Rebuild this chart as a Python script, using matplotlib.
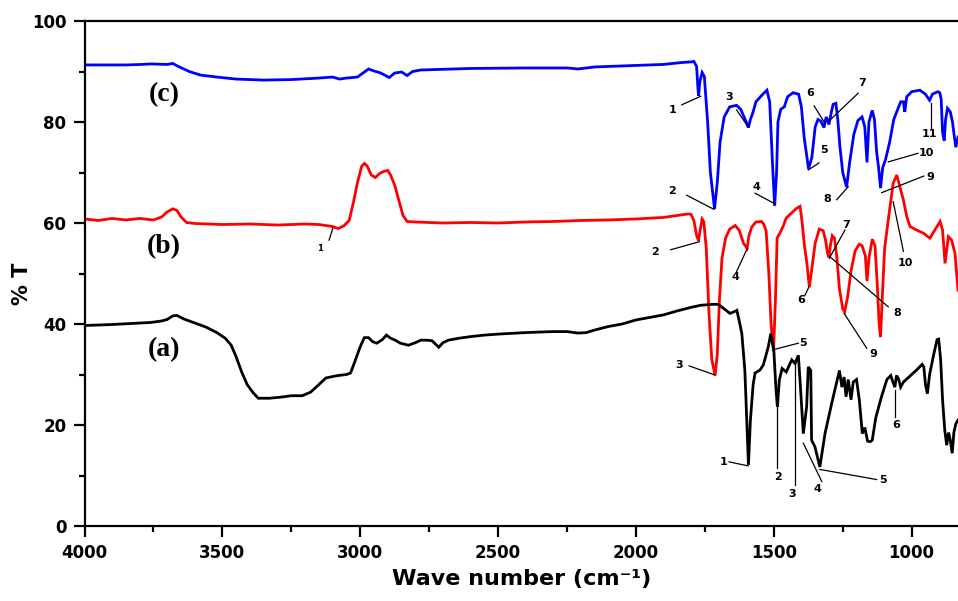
import matplotlib
matplotlib.use("Agg")
import matplotlib.pyplot as plt
from matplotlib.ticker import MultipleLocator

# ---------------- data ----------------
wn_c = [4000, 3850, 3790, 3760, 3700, 3680, 3660, 3620, 3580, 3520, 3450, 3350, 3250, 3150,
        3100, 3075, 3050, 3010, 2990, 2970, 2950, 2930, 2915, 2895, 2875, 2850, 2830, 2810,
        2780, 2600, 2400, 2250, 2210, 2150, 2000, 1900, 1830, 1800, 1790, 1780, 1775, 1773,
        1768, 1760, 1752, 1740, 1730, 1715, 1705, 1695, 1680, 1660, 1635, 1620, 1600, 1592,
        1585, 1575, 1565, 1540, 1525, 1515, 1505, 1497, 1490, 1485, 1475, 1462, 1450, 1430,
        1410, 1400, 1390, 1374, 1362, 1350, 1340, 1330, 1318, 1310, 1300, 1293, 1285, 1275,
        1268, 1260, 1250, 1236, 1225, 1210, 1195, 1180, 1170, 1162, 1155, 1143, 1135, 1127,
        1120, 1113, 1105, 1095, 1080, 1065, 1040, 1030, 1025, 1018, 1000, 970, 950, 935, 925,
        905, 898, 893, 888, 882, 877, 870, 860, 852, 845, 840, 832]
t_c = [91.3, 91.3, 91.4, 91.5, 91.4, 91.6, 91.0, 90.0, 89.3, 88.9, 88.5, 88.3, 88.4, 88.7,
       88.9, 88.5, 88.7, 88.9, 89.7, 90.5, 90.1, 89.8, 89.4, 88.8, 89.7, 89.9, 89.2, 90.0,
       90.3, 90.6, 90.7, 90.7, 90.5, 90.9, 91.2, 91.4, 91.8, 91.9, 92.0, 91.0, 86.5, 85.2,
       88.0, 89.8, 89.0, 80.0, 70.0, 62.8, 68.0, 76.0, 81.0, 83.0, 83.3, 82.5, 80.0, 78.9,
       80.5, 82.0, 84.0, 85.5, 86.3, 84.0, 72.0, 63.4, 70.0, 80.0, 82.5, 83.0, 85.0, 85.8,
       85.5, 83.0, 77.0, 70.7, 73.0, 79.0, 80.5, 80.2, 78.9, 81.0, 79.5, 81.5, 83.5, 83.7,
       80.5, 75.0, 70.0, 67.1, 72.0, 77.5, 80.3, 81.0, 79.0, 72.0, 80.0, 82.3, 80.5, 74.0,
       71.0, 66.9, 71.0, 72.5, 76.0, 80.5, 84.0, 84.0, 82.0, 85.0, 86.0, 86.3, 85.5, 84.3, 85.5,
       86.0, 85.8, 84.5, 78.0, 76.3, 80.5, 82.7, 82.0, 80.0, 77.0, 75.0, 77.0]

wn_b = [4000, 3950, 3900, 3850, 3800, 3750, 3720, 3700, 3680, 3665, 3650, 3630, 3600, 3500,
        3400, 3300, 3200, 3150, 3100, 3080, 3060, 3040, 3025, 3010, 2995, 2985, 2975, 2960,
        2945, 2930, 2915, 2900, 2890, 2875, 2860, 2845, 2830, 2800, 2700, 2600, 2500, 2400,
        2300, 2200, 2100, 2000, 1900, 1850, 1810, 1800, 1790, 1780, 1773, 1766, 1760, 1754,
        1745, 1735, 1725, 1713, 1705, 1697, 1688, 1675, 1660, 1640, 1625, 1610, 1597, 1590,
        1580, 1565, 1545, 1537, 1528, 1518, 1510, 1501, 1494, 1488, 1478, 1465, 1455, 1435,
        1420, 1405, 1398, 1390, 1380, 1371, 1362, 1350, 1335, 1321, 1312, 1305, 1300, 1295,
        1288, 1280, 1272, 1262, 1250, 1243, 1232, 1220, 1205, 1190, 1180, 1168, 1162, 1155,
        1143, 1133, 1125, 1118, 1113, 1106, 1098, 1085, 1067, 1054, 1042, 1030, 1018, 1006,
        982, 958, 934, 916, 897, 888, 879, 867, 855, 843, 832]
t_b = [60.8, 60.5, 60.9, 60.6, 60.9, 60.6, 61.2, 62.2, 62.8, 62.5, 61.2, 60.1, 59.9, 59.7,
       59.8, 59.6, 59.8, 59.7, 59.3, 58.9, 59.4, 60.5, 64.0, 68.0, 71.2, 71.8, 71.3, 69.5,
       69.0, 69.8, 70.2, 70.4, 69.5, 67.5, 64.5, 61.5, 60.3, 60.2, 60.0, 60.1, 60.0, 60.2,
       60.3, 60.5, 60.6, 60.8, 61.1, 61.5, 61.8, 61.7, 60.5, 57.5, 56.5, 59.0, 60.8, 60.3,
       55.0, 42.0, 33.0, 29.8, 34.0, 45.0, 53.0, 57.0, 58.8, 59.5, 58.5, 56.0, 55.0, 57.5,
       59.2, 60.2, 60.3, 59.8, 58.5, 50.0, 40.0, 34.6, 45.0, 57.0, 58.0, 59.5, 61.0, 62.0,
       62.8, 63.3, 60.5, 56.0, 52.0, 47.3, 51.0, 56.0, 58.8, 58.5, 56.5, 54.0, 53.2, 55.5,
       57.5, 57.0, 53.5, 47.0, 43.0, 42.4, 45.5, 50.5, 54.5, 55.8, 55.5, 53.5, 48.5, 53.0,
       56.8, 55.5, 48.0, 40.0, 37.4, 46.0, 55.0, 60.6, 67.9, 69.5, 67.0, 64.6, 61.3, 59.3,
       58.6, 58.0, 57.0, 58.6, 60.3, 58.6, 52.0, 57.3, 56.6, 54.0, 46.7]

wn_a = [4000, 3900, 3800, 3760, 3720, 3700, 3680, 3665, 3640, 3600, 3560, 3520, 3490, 3468,
        3450, 3430, 3410, 3390, 3370, 3330, 3290, 3250, 3210, 3180, 3150, 3125, 3100, 3080,
        3050, 3035, 3020, 3000, 2985, 2970, 2955, 2940, 2920, 2905, 2890, 2870, 2855, 2840,
        2825, 2800, 2780, 2760, 2740, 2715, 2700, 2680, 2640, 2600, 2550, 2500, 2400, 2300,
        2250, 2210, 2180, 2150, 2100, 2050, 2000, 1960, 1900, 1850, 1800, 1766, 1720, 1702,
        1680, 1659, 1645, 1634, 1625, 1616, 1605, 1597, 1592, 1585, 1575, 1568, 1550, 1538,
        1520, 1511, 1500, 1492, 1487, 1480, 1470, 1455, 1435, 1423, 1411, 1405, 1393, 1381,
        1375, 1366, 1363, 1351, 1333, 1314, 1290, 1262, 1253, 1245, 1238, 1230, 1220, 1212,
        1200, 1190, 1179, 1170, 1160, 1150, 1143, 1130, 1110, 1090, 1076, 1068, 1061, 1055,
        1048, 1040, 1030, 1000, 980, 962, 956, 950, 943, 935, 920, 908, 902, 895, 888, 880,
        873, 866, 860, 853, 847, 840, 832]
t_a = [39.7, 39.9, 40.2, 40.3, 40.6, 40.9, 41.6, 41.7, 41.0, 40.2, 39.4, 38.3, 37.2, 35.8,
       33.5, 30.5, 28.0, 26.5, 25.3, 25.3, 25.5, 25.8, 25.8, 26.5, 28.0, 29.3, 29.6, 29.8,
       30.0, 30.3, 32.5, 35.5, 37.3, 37.3, 36.5, 36.2, 36.9, 37.8, 37.2, 36.7, 36.2, 36.0,
       35.8, 36.3, 36.8, 36.8, 36.7, 35.4, 36.3, 36.8, 37.2, 37.5, 37.8, 38.0, 38.3, 38.5,
       38.5, 38.2, 38.3, 38.8, 39.5, 40.0, 40.8, 41.2, 41.8, 42.6, 43.3, 43.7, 43.9, 43.9,
       43.0, 42.1, 42.4, 42.7, 40.5, 38.1, 30.8, 19.0, 12.1, 20.9, 28.0, 30.3, 30.9, 31.9,
       35.5, 38.1, 34.8, 26.9, 23.6, 28.9, 31.2, 30.5, 32.9, 32.2, 33.8, 28.9, 18.3, 23.6,
       31.5, 30.8, 17.0, 15.7, 11.7, 18.4, 24.3, 30.8, 27.5, 29.5, 25.6, 29.0, 25.0, 28.5,
       29.0, 25.0, 18.3, 19.5, 16.8, 16.7, 17.0, 21.5, 25.5, 29.0, 29.8, 28.5, 27.5, 29.8,
       29.2, 27.5, 28.5, 30.0, 31.0, 32.0, 31.5, 28.0, 26.2, 30.0, 34.0, 36.9, 37.0, 33.0,
       25.0, 19.0, 16.0, 18.5, 17.0, 14.4, 18.5, 20.2, 21.0]

x_ticks = [4000, 3500, 3000, 2500, 2000, 1500, 1000]
y_ticks = [0, 20, 40, 60, 80, 100]
sample_names = ["(c)", "(b)", "(a)"]

# peak labels: (text, text_wn, text_T, line_start_wn, line_start_T, peak_wn, peak_T, size)
peak_labels = [
    # (c)
    ("1", 1868, 82.3, 1834, 83.4, 1765, 85.1, 8),
    ("2", 1868, 66.4, 1816, 65.5, 1717, 62.7, 8),
    ("3", 1662, 84.9, 1635, 82.4, 1593, 79.0, 8),
    ("4", 1562, 67.2, 1568, 65.9, 1496, 63.8, 8),
    ("5", 1318, 74.5, 1336, 71.9, 1375, 70.5, 8),
    ("6", 1369, 85.7, 1354, 83.2, 1314, 79.7, 8),
    ("7", 1181, 87.8, 1194, 85.7, 1302, 80.1, 8),
    ("8", 1305, 64.7, 1272, 64.6, 1230, 67.2, 8),
    ("9", 934, 69.2, 956, 69.3, 1109, 66.0, 8),
    ("10", 946, 73.8, 977, 73.8, 1085, 72.1, 8),
    ("11", 936, 77.6, 931, 78.8, 931, 83.7, 8),
    # (b)
    ("1", 3146, 55.0, 3113, 56.6, 3099, 59.0, 6),
    ("2", 1931, 54.3, 1874, 54.7, 1770, 56.3, 8),
    ("3", 1843, 31.9, 1807, 31.7, 1713, 29.9, 8),
    ("4", 1641, 49.4, 1635, 50.4, 1596, 55.0, 8),
    ("5", 1393, 36.3, 1411, 36.2, 1496, 35.0, 8),
    ("6", 1399, 44.8, 1387, 45.7, 1373, 47.3, 8),
    ("7", 1236, 59.6, 1242, 58.6, 1299, 53.0, 8),
    ("8", 1054, 42.1, 1085, 43.4, 1296, 53.3, 8),
    ("9", 1139, 34.1, 1163, 35.2, 1245, 42.1, 8),
    ("10", 1024, 52.0, 1030, 54.4, 1067, 64.2, 8),
    # (a)
    ("1", 1681, 12.7, 1662, 12.7, 1593, 11.9, 8),
    ("2", 1484, 9.8, 1487, 11.4, 1487, 24.3, 8),
    ("3", 1433, 6.3, 1423, 8.1, 1423, 32.9, 8),
    ("4", 1342, 7.3, 1326, 8.8, 1393, 16.4, 8),
    ("5", 1105, 9.1, 1127, 9.2, 1333, 11.2, 8),
    ("6", 1057, 20.0, 1061, 21.6, 1061, 26.9, 8),
]

# ---------------- figure ----------------
fig = plt.figure(figsize=(9.58, 6.01), dpi=100)
ax = fig.add_axes([84.5 / 958, 75 / 601, (958 - 84.5) / 958, 505 / 601])

ax.plot(wn_c, t_c, color="#0000ff", lw=2.0, solid_joinstyle="miter")
ax.plot(wn_b, t_b, color="#ff0000", lw=2.0, solid_joinstyle="miter")
ax.plot(wn_a, t_a, color="black", lw=2.0, solid_joinstyle="miter")

ax.set_xlim(4000, 832)
ax.set_ylim(0, 100)
ax.set_xticks(x_ticks)
ax.set_yticks(y_ticks)
ax.xaxis.set_minor_locator(MultipleLocator(250))
ax.yaxis.set_minor_locator(MultipleLocator(10))
ax.tick_params(which="major", direction="out", length=8, width=1.6, pad=5,
               labelsize=12)
ax.tick_params(which="minor", direction="out", length=4.5, width=1.6)
for lab in ax.get_xticklabels() + ax.get_yticklabels():
    lab.set_fontweight("bold")
    lab.set_family("DejaVu Sans")

for s in ["right"]:
    ax.spines[s].set_visible(False)
for s in ["left", "bottom", "top"]:
    ax.spines[s].set_linewidth(1.6)

ax.set_xlabel("Wave number (cm\u207b\u00b9)", fontsize=16, fontweight="bold")
ax.xaxis.set_label_coords(0.5, -0.085)
ax.set_ylabel("% T", fontsize=15, fontweight="bold")
ax.yaxis.set_label_coords(-0.060, 0.479)

sample_T = [85.5, 55.4, 35.0]
for name, tv in zip(sample_names, sample_T):
    ax.text(3712, tv, name, family="Liberation Serif", fontweight="bold",
            fontsize=20, ha="center", va="center")

for lab, tx, ty, lx, ly, px, py, fs in peak_labels:
    ax.plot([lx, px], [ly, py], color="black", lw=0.9)
    ax.text(tx, ty, lab, fontsize=fs, fontweight="bold", ha="center", va="center")

fig.savefig("out.png", dpi=100)
